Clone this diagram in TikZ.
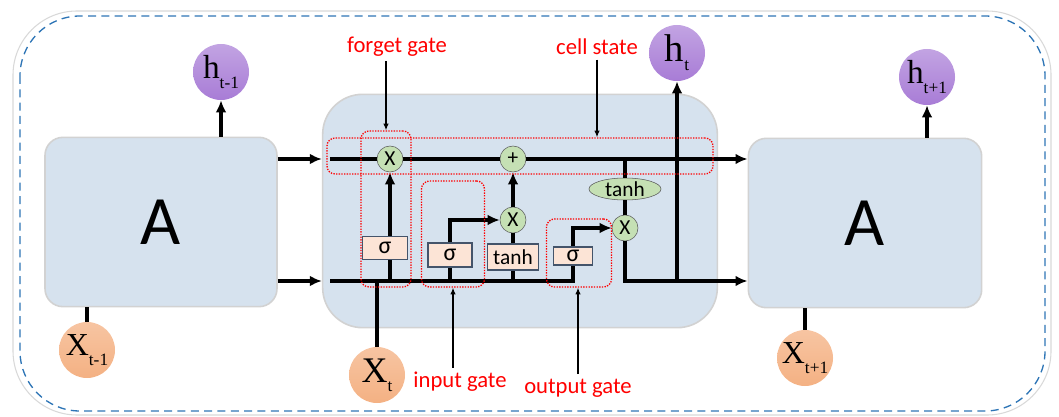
\documentclass[tikz,border=0pt]{standalone}
\usepackage{xcolor}
\usepackage{tikz}
\usepackage{fontspec}
\setmainfont{Carlito}
\newfontfamily\serifrm{Liberation Serif}
\usetikzlibrary{positioning}
\usetikzlibrary{shapes,arrows,calc,arrows.meta}

\definecolor{blockfill}{RGB}{214,226,238}
\definecolor{hpurple}{RGB}{168,124,214}
\definecolor{xorange}{RGB}{244,177,131}
\definecolor{opgreen}{RGB}{197,224,180}
\definecolor{sigfill}{RGB}{252,228,214}
\definecolor{sigedge}{RGB}{68,84,106}
\definecolor{framecol}{RGB}{46,117,182}

\newcommand{\sublbl}[3]{{\serifrm\fontsize{#1}{#1}\selectfont #2\raisebox{-7pt}{\fontsize{13}{13}\selectfont #3}}}

\begin{document}
\begin{tikzpicture}[x=0.75pt, y=-0.75pt,
    >={Latex[length=9pt,width=8pt]},
    cellblock/.style={draw=gray!35, line width=1.2pt, fill=blockfill, rounded corners=13.5pt},
    hnode/.style={circle, minimum size=42pt, inner sep=0pt, top color=hpurple!70!white, bottom color=hpurple},
    xnode/.style={circle, minimum size=42pt, inner sep=0pt, top color=xorange!75!white, bottom color=xorange},
    opnode/.style={circle, draw=gray!70!black, fill=opgreen, minimum size=19.5pt, inner sep=0pt, font=\fontsize{16}{16}\selectfont},
    sigbox/.style={draw=sigedge, line width=0.8pt, fill=sigfill, inner sep=0pt, font=\fontsize{18}{18}\selectfont},
    gatebox/.style={draw=red, densely dotted, line width=1pt, rounded corners=6pt, inner sep=0pt},
    gatelabel/.style={text=red, font=\fontsize{17}{17}\selectfont},
    flow/.style={line width=2.6pt},
    pointer/.style={line width=0.8pt, -{Latex[length=5pt,width=4pt]}}]
    \useasboundingbox (0,0) rectangle (1059,417);
    % Frame
    \draw[gray!30, line width=0.8pt, rounded corners=48pt] (13,11) rectangle (1051,415);
    \draw[framecol, dashed, dash pattern=on 6pt off 4pt, line width=1pt, rounded corners=45pt] (20,16) rectangle (1045,411);

    % Nodes
    \node[cellblock, minimum width=174pt, minimum height=127pt, font=\fontsize{52}{52}\selectfont] (blockL) at (161,222) {A};
    \node[cellblock, rounded corners=30pt, minimum width=296pt, minimum height=175pt] (cell) at (520,211) {};
    \node[cellblock, minimum width=175pt, minimum height=127pt, font=\fontsize{52}{52}\selectfont] (blockR) at (865,223) {A};

    \node[hnode] (hprev) at (221,72) {\sublbl{25}{h}{t-1}};
    \node[xnode] (xprev) at (87,350) {\sublbl{24}{X}{t-1}};
    \node[hnode] (ht) at (677,53) {\sublbl{29}{h}{t}};
    \node[xnode] (xt) at (377,375) {\sublbl{27}{X}{t}};
    \node[hnode] (hnext) at (927,77) {\sublbl{25}{h}{t+1}};
    \node[xnode] (xnext) at (805,358) {\sublbl{24}{X}{t+1}};

    \node[opnode] (fx) at (390,159) {X};
    \node[opnode] (plus) at (513,159) {+};
    \node[opnode] (ix) at (513,220) {X};
    \node[opnode] (ox) at (625,228) {X};
    \node[ellipse, draw=gray!70!black, fill=opgreen, minimum width=54pt, minimum height=16.5pt, inner sep=0pt, font=\fontsize{16}{16}\selectfont] (otanh) at (625,189) {tanh};
    \node[sigbox, minimum width=33.75pt, minimum height=17.25pt] (fsig) at (385,248) {σ};
    \node[sigbox, minimum width=33pt, minimum height=18pt] (isig) at (450,255) {σ};
    \node[sigbox, minimum width=38.25pt, minimum height=19.5pt, font=\fontsize{16}{16}\selectfont] (itanh) at (513,257) {tanh};
    \node[sigbox, minimum width=29.25pt, minimum height=13.5pt] (osig) at (573,256) {σ};
    \coordinate (bus) at (330,281);

    % Arrows
    \draw[->, flow] (blockL.east |- fx) -- (cell.west |- fx);
    \draw[->, flow] (blockL.east |- bus) -- (cell.west |- bus);
    \draw[flow] ($(cell.west |- fx)+(6pt,0)$) -- (fx);
    \draw[flow] (fx) -- (plus);
    \draw[->, flow] (plus) -- (blockR.west |- plus);
    \draw[flow] (bus) -- (osig |- bus) -- (osig);
    \draw[flow] (fx |- bus) -- (fx |- fsig.south);
    \draw[->, flow] (fx |- fsig.north) -- (fx);
    \draw[flow] (isig |- bus) -- (isig);
    \draw[->, flow] (isig.north) |- (ix);
    \draw[flow] (itanh |- bus) -- (itanh);
    \draw[flow] (itanh) -- (ix);
    \draw[->, flow] (ix) -- (plus);
    \draw[->, flow] (osig.north) |- (ox);
    \draw[flow] (otanh) -- (otanh |- plus);
    \draw[flow] (otanh) -- (ox);
    \draw[->, flow] (ox) |- (blockR.west |- bus);
    \draw[->, flow] (ht |- bus) -- (ht);
    \draw[flow] (xt) -- (xt |- bus);
    \draw[->, flow] (blockL.north -| hprev) -- (hprev);
    \draw[flow] (xprev) -- (xprev |- blockL.south);
    \draw[->, flow] (blockR.north -| hnext) -- (hnext);
    \draw[flow] (xnext) -- (xnext |- blockR.south);

    % Gates
    \node[gatebox, minimum width=37.5pt, minimum height=117pt] (fbox) at (386,209) {};
    \node[gatebox, minimum width=289.5pt, minimum height=27pt] (cbox) at (520,156) {};
    \node[gatebox, minimum width=47.25pt, minimum height=79.5pt] (ibox) at (453,234) {};
    \node[gatebox, minimum width=48.75pt, minimum height=51pt] (obox) at (579,253) {};

    \node[gatelabel] (fgate) at (397,47) {forget gate};
    \node[gatelabel] (cstate) at (597,47) {cell state};
    \node[gatelabel] (igate) at (460,382) {input gate};
    \node[gatelabel] (ogate) at (578,388) {output gate};

    \draw[pointer] (fbox.north |- fgate.south) -- (fbox.north);
    \draw[pointer] (cstate.south) -- (cstate.south |- cbox.north);
    \draw[pointer] (ibox.south |- igate.north) -- (ibox.south);
    \draw[pointer] (ogate.north) -- (ogate.north |- obox.south);
\end{tikzpicture}
\end{document}
